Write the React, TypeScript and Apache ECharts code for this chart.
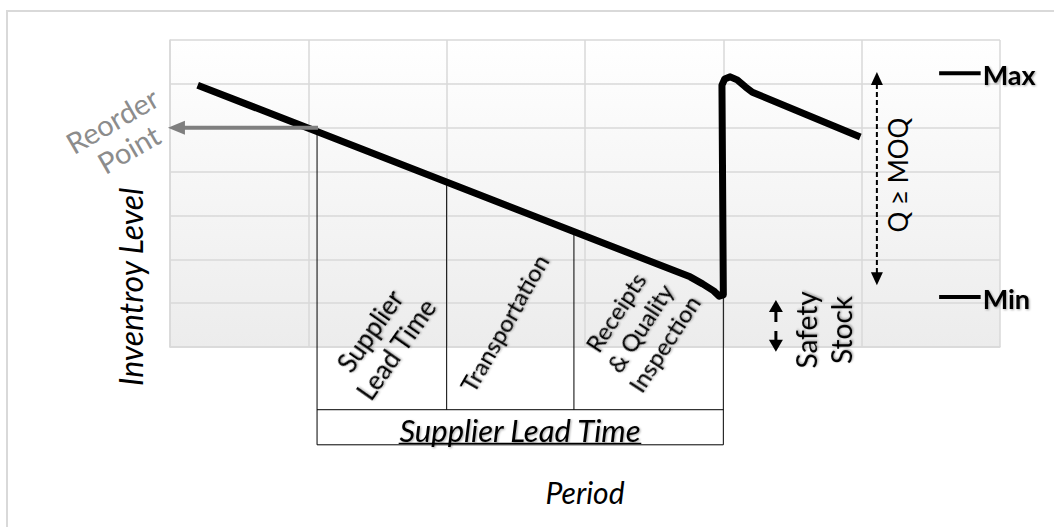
import React, { useEffect, useRef } from "react";
import * as echarts from "echarts";

// ---- data ----
const xRange = [0, 6];
const yRange = [0, 7];
const inventoryX = [0.2, 3.76, 3.85, 3.93, 3.97, 4.0, 3.99, 4.01, 4.05, 4.1, 4.16, 4.21, 4.99];
const inventoryY = [5.97, 1.6, 1.44, 1.28, 1.16, 1.19, 5.97, 6.11, 6.16, 6.09, 5.93, 5.81, 4.79];

const reorderLevel = 5.0;
const reorderFromX = 1.07;
const reorderTipX = -0.015;

const stageX = [1.063, 2.0, 2.92, 4.0];
const stageTopY = [5.0, 3.74, 2.6, 1.15];
const boxRowY = [-1.43, -2.23];
const stageLabels = ["Supplier\nLead Time", "Transportation", "Receipts\n& Quality\nInspection"];
const stageLabelPos = [
  [1.54, 0.16],
  [2.414, 0.547],
  [3.398, 0.433],
];
const stageLabelAngle = [55, 60, 57];

const maxLevel = 6.24;
const minLevel = 1.14;
const levelMarkX = [5.56, 5.86];
const moqArrowX = 5.11;
const moqArrowY = [6.27, 1.41];
const moqLabelPos = [5.263, 3.92];
const safetyArrowX = 4.38;
const safetyArrowY = [1.07, -0.11];
const safetyLabelPos = [4.721, 0.387];
const reorderLabelPos = [-0.36, 4.85];
const leadTimeLabelPos = [2.53, -1.9];
const periodPos = [3.0, -3.3];
const levelTitlePos = [-0.282, 1.37];

const FONT = "Lato, 'Open Sans', sans-serif";

export default function App() {
  const ref = useRef<HTMLDivElement>(null);
  useEffect(() => {
    const chart = echarts.init(ref.current!, null, { renderer: "svg" });
    chart.setOption({
      animation: false,
      grid: {
        left: 170,
        top: 40,
        width: 830,
        height: 307,
        show: true,
        borderWidth: 0,
        backgroundColor: {
          type: "linear",
          x: 0,
          y: 0,
          x2: 0,
          y2: 1,
          colorStops: [
            { offset: 0, color: "#ffffff" },
            { offset: 1, color: "#ececec" },
          ],
        },
      },
      xAxis: {
        type: "value",
        min: xRange[0],
        max: xRange[1],
        interval: 1,
        axisLabel: { show: false },
        axisTick: { show: false },
        axisLine: { show: true, lineStyle: { color: "#d9d9d9", width: 1.5 } },
        splitLine: { show: true, lineStyle: { color: "#d9d9d9", width: 1.5 } },
      },
      yAxis: {
        type: "value",
        min: yRange[0],
        max: yRange[1],
        interval: 1,
        axisLabel: { show: false },
        axisTick: { show: false },
        axisLine: { show: true, lineStyle: { color: "#d9d9d9", width: 1.5 } },
        splitLine: { show: true, lineStyle: { color: "#d9d9d9", width: 1.5 } },
      },
      series: [
        {
          type: "line",
          data: inventoryX.map((x, i) => [x, inventoryY[i]]),
          symbol: "none",
          smooth: false,
          z: 5,
          lineStyle: { color: "#000", width: 7, join: "round", cap: "butt" },
        },
      ],
    });

    const P = (x: number, y: number) =>
      chart.convertToPixel({ gridIndex: 0 }, [x, y]) as number[];
    const deg = (d: number) => (d * Math.PI) / 180;
    const shadow = {
      textShadowColor: "rgba(0,0,0,0.35)",
      textShadowBlur: 2,
      textShadowOffsetX: 1,
      textShadowOffsetY: 1,
    };
    const head = (tip: number[], dx: number, dy: number, len: number, half: number, color: string, z = 10) => {
      const bx = tip[0] - dx * len;
      const by = tip[1] - dy * len;
      return {
        type: "polygon",
        z,
        shape: {
          points: [
            [tip[0], tip[1]],
            [bx - dy * half, by + dx * half],
            [bx + dy * half, by - dx * half],
          ],
        },
        style: { fill: color },
      };
    };
    const seg = (a: number[], b: number[], stroke: string, lineWidth: number, z = 3, extra: any = {}) => ({
      type: "line",
      z,
      shape: { x1: a[0], y1: a[1], x2: b[0], y2: b[1] },
      style: { stroke, lineWidth, ...extra },
    });

    const els: any[] = [];
    // outer chart-area border
    els.push({
      type: "rect",
      z: 0,
      shape: { x: 7, y: 11, width: 1200, height: 700 },
      style: { fill: "none", stroke: "#d9d9d9", lineWidth: 2 },
    });

    // reorder arrow
    const rA = P(reorderFromX, reorderLevel);
    const rT = P(reorderTipX, reorderLevel);
    els.push(seg(rA, [rT[0] + 14, rT[1]], "#7f7f7f", 4, 10));
    els.push(head(rT, -1, 0, 17, 7, "#7f7f7f"));
    const rl = P(reorderLabelPos[0], reorderLabelPos[1]);
    els.push({
      type: "text",
      z: 10,
      x: rl[0],
      y: rl[1],
      rotation: deg(30),
      style: {
        text: "Reorder\nPoint",
        font: `29px ${FONT}`,
        fill: "#8c8c8c",
        align: "center",
        verticalAlign: "middle",
        lineHeight: 33,
      },
    });

    // stage boxes
    const boxBottom = [boxRowY[1], boxRowY[0], boxRowY[0], boxRowY[1]];
    stageX.forEach((x, i) => {
      els.push(seg(P(x, stageTopY[i]), P(x, boxBottom[i]), "#000", 1, 3));
    });
    boxRowY.forEach((y) => {
      els.push(seg(P(stageX[0], y), P(stageX[3], y), "#000", 1, 3));
    });
    const stageFont = [26, 24, 24];
    const stageLH = [32, 29, 29];
    stageLabels.forEach((t, i) => {
      const p = P(stageLabelPos[i][0], stageLabelPos[i][1]);
      els.push({
        type: "text",
        z: 6,
        x: p[0],
        y: p[1],
        rotation: deg(stageLabelAngle[i]),
        style: {
          text: t,
          font: `${stageFont[i]}px ${FONT}`,
          fill: "#000",
          align: "center",
          verticalAlign: "middle",
          lineHeight: stageLH[i],
          ...shadow,
        },
      });
    });

    // Supplier Lead Time (underlined)
    const lt = P(leadTimeLabelPos[0], leadTimeLabelPos[1]);
    const ltFont = `italic 31px ${FONT}`;
    const ctx = document.createElement("canvas").getContext("2d")!;
    ctx.font = ltFont;
    const ltW = ctx.measureText("Supplier Lead Time").width;
    els.push({
      type: "text",
      z: 6,
      x: lt[0],
      y: lt[1],
      style: {
        text: "Supplier Lead Time",
        font: ltFont,
        fill: "#000",
        align: "center",
        verticalAlign: "middle",
        ...shadow,
      },
    });
    els.push(seg([lt[0] - ltW / 2, lt[1] + 13], [lt[0] + ltW / 2, lt[1] + 13], "#000", 1.2, 6));

    // safety stock arrow & label
    const sT = P(safetyArrowX, safetyArrowY[0]);
    const sB = P(safetyArrowX, safetyArrowY[1]);
    els.push(head(sT, 0, -1, 12, 7, "#000"));
    els.push(head(sB, 0, 1, 12, 7, "#000"));
    els.push(seg([sT[0], sT[1] + 11], [sB[0], sB[1] - 11], "#000", 3, 10, { lineDash: [11, 9] }));
    const sl = P(safetyLabelPos[0], safetyLabelPos[1]);
    els.push({
      type: "text",
      z: 6,
      x: sl[0],
      y: sl[1],
      rotation: deg(90),
      style: {
        text: "Safety\nStock",
        font: `28px ${FONT}`,
        fill: "#000",
        align: "center",
        verticalAlign: "middle",
        lineHeight: 35,
        ...shadow,
      },
    });

    // MOQ dashed arrow & label
    const mT = P(moqArrowX, moqArrowY[0]);
    const mB = P(moqArrowX, moqArrowY[1]);
    els.push(head(mT, 0, -1, 13, 6, "#000"));
    els.push(head(mB, 0, 1, 13, 6, "#000"));
    els.push(seg([mT[0], mT[1] + 12], [mB[0], mB[1] - 12], "#000", 2, 10, { lineDash: [5, 3] }));
    const ml = P(moqLabelPos[0], moqLabelPos[1]);
    els.push({
      type: "text",
      z: 6,
      x: ml[0],
      y: ml[1],
      rotation: deg(90),
      style: {
        text: "Q ≥ MOQ",
        font: `26px ${FONT}`,
        fill: "#000",
        align: "center",
        verticalAlign: "middle",
      },
    });

    // Max / Min marks
    [
      [maxLevel, "Max"],
      [minLevel, "Min"],
    ].forEach(([lvl, name]) => {
      const a = P(levelMarkX[0], lvl as number);
      const b = P(levelMarkX[1], lvl as number);
      els.push(seg(a, b, "#000", 4, 10));
      els.push({
        type: "text",
        z: 10,
        x: b[0] + 2,
        y: b[1] + 1,
        style: {
          text: name as string,
          font: `bold 27px ${FONT}`,
          fill: "#000",
          align: "left",
          verticalAlign: "middle",
          ...shadow,
        },
      });
    });

    // axis titles
    const pp = P(periodPos[0], periodPos[1]);
    els.push({
      type: "text",
      z: 6,
      x: pp[0],
      y: pp[1],
      style: {
        text: "Period",
        font: `italic 30px ${FONT}`,
        fill: "#000",
        align: "center",
        verticalAlign: "middle",
      },
    });
    const lp = P(levelTitlePos[0], levelTitlePos[1]);
    els.push({
      type: "text",
      z: 6,
      x: lp[0],
      y: lp[1],
      rotation: deg(90),
      style: {
        text: "Inventroy Level",
        font: `italic 32px ${FONT}`,
        fill: "#000",
        align: "center",
        verticalAlign: "middle",
      },
    });

    chart.setOption({ graphic: { elements: els } });
    return () => chart.dispose();
  }, []);
  return (
    <div
      ref={ref}
      style={{ position: "fixed", left: 0, top: 0, width: 1054, height: 527, background: "#fff" }}
    />
  );
}
